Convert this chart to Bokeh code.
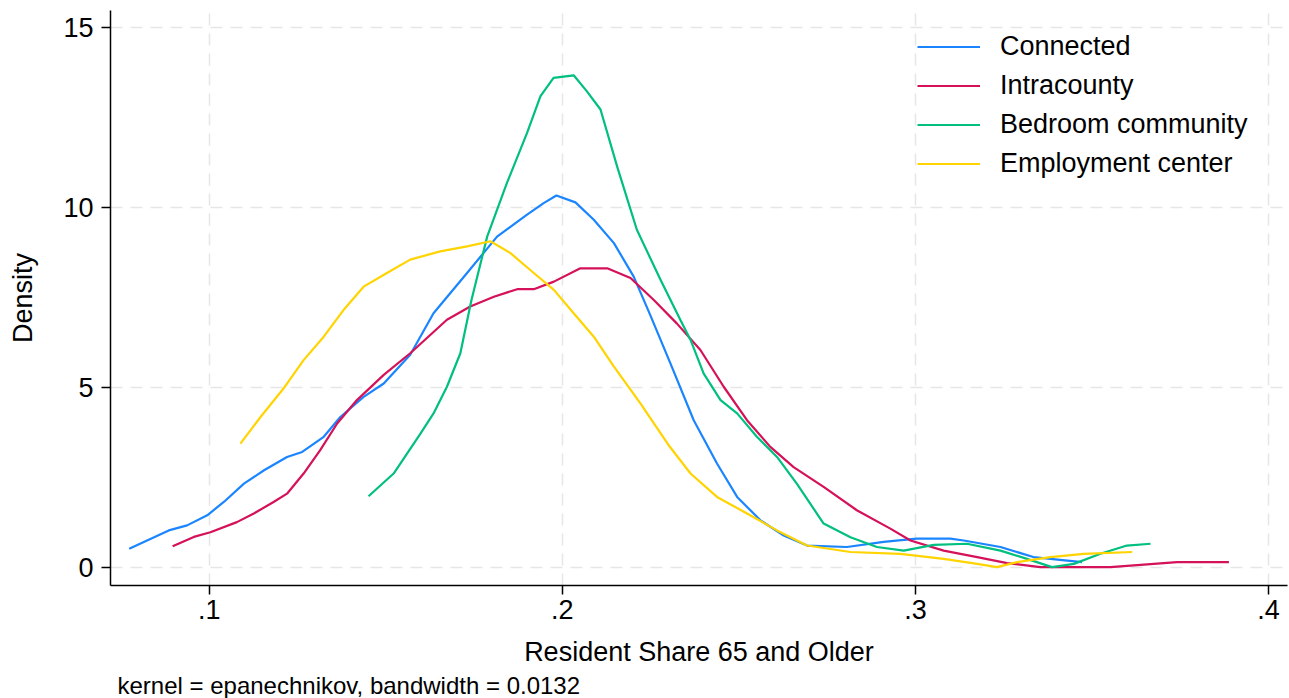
from bokeh.plotting import figure
from bokeh.models import (Range1d, FixedTicker, Legend, LegendItem, Title)
from bokeh.embed import file_html
from bokeh.resources import INLINE

# ---- data ----
connected_x = [0.0773, 0.0885, 0.0937, 0.0994, 0.1041, 0.1098, 0.1155, 0.1220, 0.1263, 0.1324,
               0.1371, 0.1437, 0.1494, 0.1569, 0.1635, 0.1730, 0.1815, 0.1900, 0.1947, 0.1983,
               0.2037, 0.2089, 0.2146, 0.2202, 0.2249, 0.2306, 0.2372, 0.2438, 0.2495, 0.2561,
               0.2627, 0.2693, 0.2806, 0.2910, 0.3004, 0.3099, 0.3137, 0.3241, 0.3334, 0.3472]
connected_y = [0.51, 1.02, 1.16, 1.44, 1.81, 2.32, 2.69, 3.06, 3.20, 3.62,
               4.17, 4.73, 5.10, 5.90, 7.05, 8.17, 9.18, 9.79, 10.11, 10.32,
               10.13, 9.65, 9.00, 8.07, 7.00, 5.66, 4.08, 2.88, 1.95, 1.30,
               0.88, 0.60, 0.56, 0.70, 0.79, 0.79, 0.74, 0.56, 0.28, 0.14]

intracounty_x = [0.0896, 0.0956, 0.1003, 0.1078, 0.1126, 0.1182, 0.1220, 0.1267, 0.1314, 0.1362,
                 0.1418, 0.1494, 0.1569, 0.1673, 0.1739, 0.1806, 0.1872, 0.1919, 0.1976, 0.2051,
                 0.2127, 0.2193, 0.2259, 0.2324, 0.2391, 0.2457, 0.2523, 0.2589, 0.2655, 0.2740,
                 0.2834, 0.2929, 0.2986, 0.3080, 0.3175, 0.3260, 0.3354, 0.3552, 0.3619, 0.3741,
                 0.3888]
intracounty_y = [0.58, 0.84, 0.97, 1.25, 1.49, 1.81, 2.04, 2.60, 3.25, 3.99,
                 4.64, 5.34, 5.94, 6.87, 7.24, 7.51, 7.72, 7.72, 7.93, 8.30,
                 8.30, 8.03, 7.42, 6.77, 6.03, 5.01, 4.08, 3.34, 2.78, 2.23,
                 1.58, 1.07, 0.74, 0.46, 0.28, 0.11, 0.00, 0.00, 0.05, 0.14,
                 0.14]

bedroom_x = [0.1451, 0.1522, 0.1598, 0.1635, 0.1673, 0.1711, 0.1742, 0.1787, 0.1843, 0.1900,
             0.1938, 0.1975, 0.2032, 0.2069, 0.2108, 0.2155, 0.2211, 0.2278, 0.2334, 0.2363,
             0.2400, 0.2448, 0.2495, 0.2551, 0.2608, 0.2664, 0.2740, 0.2816, 0.2891, 0.2967,
             0.3052, 0.3146, 0.3241, 0.3316, 0.3387, 0.3449, 0.3524, 0.3599, 0.3666]
bedroom_y = [1.97, 2.60, 3.71, 4.27, 5.01, 5.94, 7.40, 9.18, 10.67, 12.06,
             13.08, 13.59, 13.66, 13.22, 12.71, 11.13, 9.37, 7.98, 6.87, 6.31,
             5.38, 4.64, 4.27, 3.62, 3.06, 2.32, 1.21, 0.83, 0.56, 0.46,
             0.62, 0.65, 0.46, 0.23, 0.00, 0.09, 0.37, 0.60, 0.65]

employment_x = [0.1088, 0.1145, 0.1210, 0.1267, 0.1324, 0.1380, 0.1437, 0.1503, 0.1569, 0.1654,
                0.1730, 0.1796, 0.1853, 0.1919, 0.1976, 0.2032, 0.2089, 0.2146, 0.2221, 0.2300,
                0.2363, 0.2438, 0.2523, 0.2608, 0.2693, 0.2816, 0.2957, 0.3080, 0.3175, 0.3231,
                0.3288, 0.3382, 0.3477, 0.3614]
employment_y = [3.43, 4.17, 4.96, 5.75, 6.40, 7.14, 7.79, 8.17, 8.54, 8.77,
                8.91, 9.05, 8.72, 8.17, 7.70, 7.05, 6.40, 5.57, 4.55, 3.40,
                2.60, 1.95, 1.49, 1.02, 0.60, 0.42, 0.37, 0.23, 0.09, 0.00,
                0.14, 0.28, 0.37, 0.42]

series_names = ["Connected", "Intracounty", "Bedroom community", "Employment center"]
series_colors = ["#1a85ff", "#d41159", "#00bf7f", "#ffd400"]

x_ticks = [0.1, 0.2, 0.3, 0.4]
x_tick_labels = [".1", ".2", ".3", ".4"]
y_ticks = [0, 5, 10, 15]

FONT = "Liberation Sans"

p = figure(width=1289, height=698, output_backend="svg", toolbar_location=None,
           x_range=Range1d(0.0720, 0.4054), y_range=Range1d(-0.51, 15.46),
           min_border_left=110, min_border_right=2, min_border_top=10, min_border_bottom=113)
p.outline_line_color = None
p.background_fill_color = "white"
p.border_fill_color = "white"

xs = [connected_x, intracounty_x, bedroom_x, employment_x]
ys = [connected_y, intracounty_y, bedroom_y, employment_y]
renderers = []
for x, y, c in zip(xs, ys, series_colors):
    r = p.line(x, y, line_color=c, line_width=2.2, line_join="round")
    renderers.append(r)

# axes
p.xaxis.ticker = FixedTicker(ticks=x_ticks)
p.xaxis.major_label_overrides = {t: l for t, l in zip(x_ticks, x_tick_labels)}
p.yaxis.ticker = FixedTicker(ticks=y_ticks)
for ax in (p.xaxis[0], p.yaxis[0]):
    ax.axis_line_color = "black"
    ax.axis_line_width = 1.5
    ax.major_tick_line_color = "black"
    ax.major_tick_line_width = 1.5
    ax.major_tick_out = 9
    ax.major_tick_in = 0
    ax.minor_tick_line_color = None
    ax.major_label_text_font = FONT
    ax.major_label_text_font_size = "27px"
    ax.major_label_text_color = "black"
    ax.axis_label_text_font = FONT
    ax.axis_label_text_font_size = "27px"
    ax.axis_label_text_font_style = "normal"
    ax.axis_label_text_color = "black"

p.xaxis.axis_label = "Resident Share 65 and Older"
p.xaxis.major_label_standoff = 5
p.xaxis.axis_label_standoff = 15
p.yaxis.axis_label = "Density"
p.yaxis.major_label_orientation = "horizontal"
p.yaxis.major_label_standoff = 8
p.yaxis.axis_label_standoff = 22

# grid
for g in (p.xgrid[0], p.ygrid[0]):
    g.grid_line_color = "#e6e6e6"
    g.grid_line_dash = "12 8"
    g.grid_line_width = 1.5

# legend
items = [LegendItem(label=n, renderers=[r]) for n, r in zip(series_names, renderers)]
legend = Legend(items=items, location=(807, 402),
                label_text_font=FONT, label_text_font_size="27px", label_text_color="black",
                glyph_width=63, glyph_height=39, label_height=39, spacing=0,
                padding=0, margin=0, label_standoff=20,
                border_line_alpha=0, background_fill_alpha=0)
p.add_layout(legend)

# note
note = Title(text="kernel = epanechnikov, bandwidth = 0.0132", align="left",
             text_font=FONT, text_font_size="24px", text_font_style="normal",
             text_color="black", standoff=0, offset=7)
p.add_layout(note, "below")

open("out.html", "w").write(file_html(p, INLINE))
